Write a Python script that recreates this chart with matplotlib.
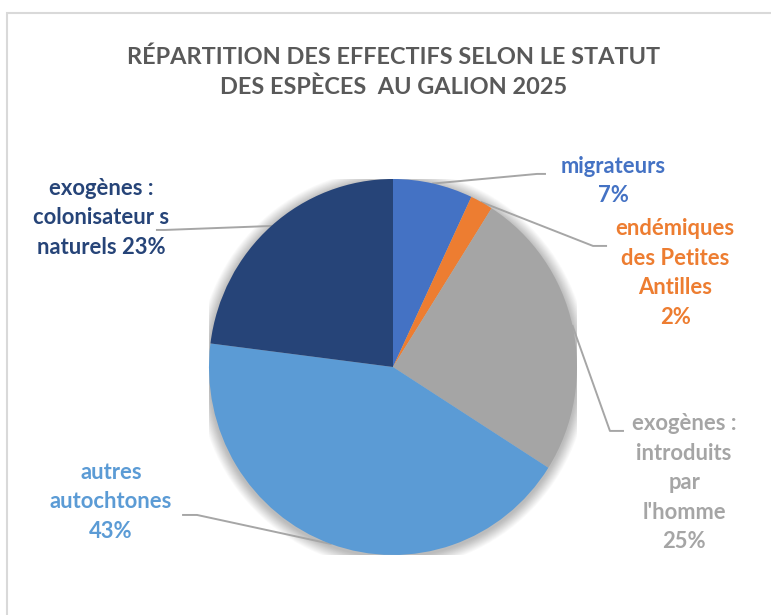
import matplotlib.pyplot as plt
from matplotlib.patches import Ellipse, Rectangle
import numpy as np

plt.rcParams['font.family'] = ['Lato', 'DejaVu Sans']

# species status shares (%)
statuts = ['migrateurs', 'endémiques des Petites Antilles', 'exogènes : introduits par l\'homme',
           'autres autochtones', 'exogènes : colonisateurs naturels']
parts = [7, 2, 25, 43, 23]
couleurs = ['#4472C4', '#ED7D31', '#A5A5A5', '#5B9BD5', '#264478']
etiquettes = ['migrateurs\n7%', 'endémiques\ndes Petites\nAntilles\n2%',
              'exogènes :\nintroduits\npar\nl\'homme\n25%', 'autres\nautochtones\n43%',
              'exogènes :\ncolonisateur s\nnaturels 23%']

# label centres and leader-line elbows, in pie units
pos_txt = [(1.196, 0.989), (1.533, 0.50), (1.582, -0.617), (-1.533, -0.718), (-1.587, 0.793)]
coudes = [(0.783, 1.027), (1.087, 0.644), (1.179, -0.340), (-1.065, -0.787), (-1.239, 0.729)]
fins = [(0.826, 1.027), (1.158, 0.644), (1.25, -0.340), (-1.141, -0.787), (-1.283, 0.729)]

fig = plt.figure(figsize=(7.71, 6.15), dpi=100)

# chart border
fig.patches.append(Rectangle((7 / 771, -0.1), 1.2, (615 - 13) / 615 + 0.1,
                             transform=fig.transFigure, fill=False,
                             edgecolor='#D9D9D9', linewidth=1.5))

fig.text(0.511, 0.882, 'RÉPARTITION DES EFFECTIFS SELON LE STATUT\nDES ESPÈCES  AU GALION 2025',
         ha='center', va='center', fontsize=16.9, fontweight='bold', color='#595959',
         linespacing=1.5)

ax = fig.add_axes([209 / 771, (615 - 555) / 615, 368 / 771, 376 / 615])

# soft shadow under the pie
for k in range(14):
    s = 1.0 + 0.0045 * (14 - k)
    ax.add_patch(Ellipse((0.0, -0.01), 2 * s, 2 * s, facecolor='#000000',
                         alpha=0.018, edgecolor='none', zorder=0))

wedges, _ = ax.pie(parts, colors=couleurs, startangle=90, counterclock=False,
                   radius=1, wedgeprops=dict(linewidth=0))
for w in wedges:
    w.set_zorder(2)
ax.set_aspect('auto')
ax.set_xlim(-1, 1)
ax.set_ylim(-1, 1)
ax.axis('off')

cumul = np.cumsum([0] + parts)
for i, w in enumerate(wedges):
    milieu = (cumul[i] + cumul[i + 1]) / 2 / 100 * 2 * np.pi
    x0, y0 = np.sin(milieu), np.cos(milieu)
    ax.plot([x0, coudes[i][0], fins[i][0]], [y0, coudes[i][1], fins[i][1]],
            color='#A6A6A6', linewidth=1.4, zorder=1, clip_on=False)
    ax.text(pos_txt[i][0], pos_txt[i][1], etiquettes[i], ha='center', va='center',
            multialignment='center', fontsize=15.8, fontweight='bold',
            color=couleurs[i], linespacing=1.5, clip_on=False)

fig.savefig('out.png', dpi=100)
